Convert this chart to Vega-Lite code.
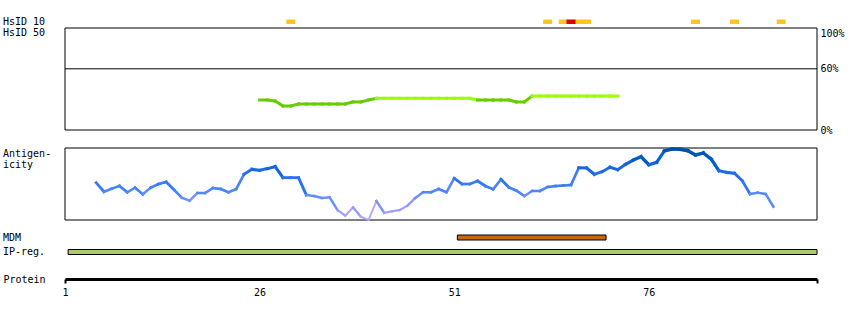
{
  "$schema": "https://vega.github.io/schema/vega-lite/v6.json",
  "width": 752,
  "height": 279,
  "autosize": {"type": "none"},
  "padding": {"left": 65, "top": 0, "right": 33, "bottom": 41},
  "background": "white",
  "config": {
    "view": {"stroke": null},
    "font": "DejaVu Sans Mono",
    "text": {"font": "DejaVu Sans Mono", "fontSize": 10, "color": "black"},
    "axis": {"labelFont": "DejaVu Sans Mono", "labelFontSize": 10, "labelColor": "black", "titleFont": "DejaVu Sans Mono", "titleFontSize": 10, "titleFontWeight": "normal", "titleColor": "black", "grid": false},
    "axisX": {"domainWidth": 3, "domainColor": "black", "ticks": true, "tickSize": 4, "tickWidth": 2,
              "tickColor": {"condition": {"test": "datum.value < 2 || datum.value > 97", "value": "black"}, "value": "transparent"},
              "labelExpr": "datum.value > 97 ? '' : datum.label",
              "labelPadding": 4, "labelFlush": false, "titleX": -62, "titleY": 0, "titleAlign": "left", "titleBaseline": "middle", "titleAnchor": "start"}
  },
  "datasets": {
    "hsid10": [
      {"res": 30, "level": "partial"}, {"res": 63, "level": "partial"}, {"res": 65, "level": "partial"},
      {"res": 67, "level": "partial"}, {"res": 68, "level": "partial"}, {"res": 82, "level": "partial"},
      {"res": 87, "level": "partial"}, {"res": 93, "level": "partial"}, {"res": 66, "level": "full"}
    ],
    "hsid50": [
      {"res": 26, "v": 29.4}, {"res": 27, "v": 29.4}, {"res": 28, "v": 28.4}, {"res": 29, "v": 23.5},
      {"res": 30, "v": 23.5}, {"res": 31, "v": 25.5}, {"res": 32, "v": 25.5}, {"res": 33, "v": 25.5},
      {"res": 34, "v": 25.5}, {"res": 35, "v": 25.5}, {"res": 36, "v": 25.5}, {"res": 37, "v": 25.5},
      {"res": 38, "v": 27.5}, {"res": 39, "v": 27.5}, {"res": 40, "v": 29.4}, {"res": 41, "v": 31.1},
      {"res": 42, "v": 31.1}, {"res": 43, "v": 31.1}, {"res": 44, "v": 31.1}, {"res": 45, "v": 31.1},
      {"res": 46, "v": 31.1}, {"res": 47, "v": 31.1}, {"res": 48, "v": 31.1}, {"res": 49, "v": 31.1},
      {"res": 50, "v": 31.1}, {"res": 51, "v": 31.1}, {"res": 52, "v": 31.1}, {"res": 53, "v": 31.1},
      {"res": 54, "v": 29.4}, {"res": 55, "v": 29.4}, {"res": 56, "v": 29.4}, {"res": 57, "v": 29.4},
      {"res": 58, "v": 29.4}, {"res": 59, "v": 27.5}, {"res": 60, "v": 27.5}, {"res": 61, "v": 33.3},
      {"res": 62, "v": 33.3}, {"res": 63, "v": 33.3}, {"res": 64, "v": 33.3}, {"res": 65, "v": 33.3},
      {"res": 66, "v": 33.3}, {"res": 67, "v": 33.3}, {"res": 68, "v": 33.3}, {"res": 69, "v": 33.3},
      {"res": 70, "v": 33.3}, {"res": 71, "v": 33.3}, {"res": 72, "v": 33.3}
    ],
    "antigen": [
      {"res": 5, "v": 0.518}, {"res": 6, "v": 0.393}, {"res": 7, "v": 0.435}, {"res": 8, "v": 0.472},
      {"res": 9, "v": 0.385}, {"res": 10, "v": 0.449}, {"res": 11, "v": 0.357}, {"res": 12, "v": 0.449},
      {"res": 13, "v": 0.5}, {"res": 14, "v": 0.528}, {"res": 15, "v": 0.42}, {"res": 16, "v": 0.31},
      {"res": 17, "v": 0.268}, {"res": 18, "v": 0.375}, {"res": 19, "v": 0.375}, {"res": 20, "v": 0.444},
      {"res": 21, "v": 0.431}, {"res": 22, "v": 0.385}, {"res": 23, "v": 0.431}, {"res": 24, "v": 0.635},
      {"res": 25, "v": 0.704}, {"res": 26, "v": 0.69}, {"res": 27, "v": 0.713}, {"res": 28, "v": 0.74},
      {"res": 29, "v": 0.588}, {"res": 30, "v": 0.588}, {"res": 31, "v": 0.588}, {"res": 32, "v": 0.347},
      {"res": 33, "v": 0.333}, {"res": 34, "v": 0.306}, {"res": 35, "v": 0.315}, {"res": 36, "v": 0.139},
      {"res": 37, "v": 0.06}, {"res": 38, "v": 0.176}, {"res": 39, "v": 0.046}, {"res": 40, "v": 0.0},
      {"res": 41, "v": 0.264}, {"res": 42, "v": 0.101}, {"res": 43, "v": 0.121}, {"res": 44, "v": 0.139},
      {"res": 45, "v": 0.199}, {"res": 46, "v": 0.306}, {"res": 47, "v": 0.385}, {"res": 48, "v": 0.385},
      {"res": 49, "v": 0.431}, {"res": 50, "v": 0.385}, {"res": 51, "v": 0.579}, {"res": 52, "v": 0.5},
      {"res": 53, "v": 0.5}, {"res": 54, "v": 0.542}, {"res": 55, "v": 0.472}, {"res": 56, "v": 0.426},
      {"res": 57, "v": 0.565}, {"res": 58, "v": 0.454}, {"res": 59, "v": 0.407}, {"res": 60, "v": 0.333},
      {"res": 61, "v": 0.403}, {"res": 62, "v": 0.403}, {"res": 63, "v": 0.458}, {"res": 64, "v": 0.472},
      {"res": 65, "v": 0.479}, {"res": 66, "v": 0.486}, {"res": 67, "v": 0.726}, {"res": 68, "v": 0.722},
      {"res": 69, "v": 0.635}, {"res": 70, "v": 0.671}, {"res": 71, "v": 0.732}, {"res": 72, "v": 0.699},
      {"res": 73, "v": 0.774}, {"res": 74, "v": 0.833}, {"res": 75, "v": 0.879}, {"res": 76, "v": 0.768},
      {"res": 77, "v": 0.801}, {"res": 78, "v": 0.958}, {"res": 79, "v": 0.986}, {"res": 80, "v": 0.982},
      {"res": 81, "v": 0.962}, {"res": 82, "v": 0.903}, {"res": 83, "v": 0.931}, {"res": 84, "v": 0.847},
      {"res": 85, "v": 0.685}, {"res": 86, "v": 0.662}, {"res": 87, "v": 0.649}, {"res": 88, "v": 0.546},
      {"res": 89, "v": 0.361}, {"res": 90, "v": 0.379}, {"res": 91, "v": 0.361}, {"res": 92, "v": 0.185}
    ],
    "regions": [
      {"track": "MDM", "start": 51.4, "end": 70.5},
      {"track": "IP-reg.", "start": 1.4, "end": 97.6}
    ]
  },
  "resolve": {"scale": {"y": "independent", "color": "independent", "size": "independent"}, "axis": {"y": "independent"}},
  "layer": [
    {
      "layer": [
        {
          "data": {"name": "hsid10"},
          "mark": {"type": "bar", "orient": "vertical", "size": 9},
          "encoding": {
            "x": {"field": "res", "type": "quantitative", "scale": {"domain": [1, 97.6], "nice": false, "zero": false, "padding": 0}, "axis": {"values": [1, 26, 51, 76, 97.6], "title": "Protein"}},
            "y": {"datum": 0, "type": "quantitative", "scale": {"domain": [0, 1], "range": [24, 19.5]}, "axis": null},
            "y2": {"datum": 1},
            "color": {"field": "level", "type": "nominal", "scale": {"domain": ["partial", "full"], "range": ["#ffc61a", "#dd0000"]}, "legend": null}
          }
        },
        {
          "data": {"values": [{"label": "HsID 10"}]},
          "mark": {"type": "text", "align": "left", "baseline": "middle", "dx": -62},
          "encoding": {
            "x": {"datum": 1, "type": "quantitative", "scale": {"domain": [1, 97.6], "nice": false, "zero": false, "padding": 0}, "axis": {"values": [1, 26, 51, 76, 97.6], "title": "Protein"}},
            "y": {"datum": 0.5, "type": "quantitative"},
            "text": {"field": "label"}
          }
        }
      ]
    },
    {
      "layer": [
        {
          "data": {"values": [{"panel": "HsID 50"}]},
          "mark": {"type": "rect", "fillOpacity": 0, "stroke": "black", "strokeWidth": 1},
          "encoding": {
            "x": {"datum": 1, "type": "quantitative", "scale": {"domain": [1, 97.6], "nice": false, "zero": false, "padding": 0}, "axis": {"values": [1, 26, 51, 76, 97.6], "title": "Protein"}},
            "x2": {"datum": 97.6},
            "y": {"datum": 0, "type": "quantitative", "scale": {"domain": [0, 100], "range": [130, 28]},
                  "axis": {"orient": "right", "values": [0, 60, 100], "labelExpr": "datum.value + '%'", "ticks": false, "domain": false, "grid": false, "title": null, "labelPadding": 3, "labelFlush": false,
                           "labelBaseline": {"condition": {"test": "datum.value == 100", "value": "top"}, "value": "middle"}}},
            "y2": {"datum": 100}
          }
        },
        {
          "data": {"values": [{"pct": 60}]},
          "mark": {"type": "rule", "color": "black", "strokeWidth": 1},
          "encoding": {"y": {"field": "pct", "type": "quantitative"}}
        },
        {
          "data": {"name": "hsid50"},
          "transform": [
            {"window": [{"op": "lead", "field": "res", "as": "res2"}, {"op": "lead", "field": "v", "as": "v2"}], "sort": [{"field": "res", "order": "ascending"}]},
            {"filter": "datum.res2 != null"}
          ],
          "mark": {"type": "rule", "strokeWidth": 3, "strokeCap": "square"},
          "encoding": {
            "x": {"field": "res", "type": "quantitative", "scale": {"domain": [1, 97.6], "nice": false, "zero": false, "padding": 0}, "axis": {"values": [1, 26, 51, 76, 97.6], "title": "Protein"}},
            "x2": {"field": "res2"},
            "y": {"field": "v", "type": "quantitative"},
            "y2": {"field": "v2"},
            "color": {"field": "v", "type": "quantitative", "scale": {"type": "threshold", "domain": [30], "range": ["#66cc00", "#99ff00"]}, "legend": null}
          }
        },
        {
          "data": {"values": [{"label": "HsID 50"}]},
          "mark": {"type": "text", "align": "left", "baseline": "middle", "dx": -62, "dy": 4.5},
          "encoding": {
            "x": {"datum": 1, "type": "quantitative", "scale": {"domain": [1, 97.6], "nice": false, "zero": false, "padding": 0}, "axis": {"values": [1, 26, 51, 76, 97.6], "title": "Protein"}},
            "y": {"datum": 100, "type": "quantitative"},
            "text": {"field": "label"}
          }
        }
      ]
    },
    {
      "layer": [
        {
          "data": {"values": [{"panel": "Antigenicity"}]},
          "mark": {"type": "rect", "fillOpacity": 0, "stroke": "black", "strokeWidth": 1},
          "encoding": {
            "x": {"datum": 1, "type": "quantitative", "scale": {"domain": [1, 97.6], "nice": false, "zero": false, "padding": 0}, "axis": {"values": [1, 26, 51, 76, 97.6], "title": "Protein"}},
            "x2": {"datum": 97.6},
            "y": {"datum": 0, "type": "quantitative", "scale": {"domain": [0, 1], "range": [220, 148]}, "axis": null},
            "y2": {"datum": 1}
          }
        },
        {
          "data": {"name": "antigen"},
          "transform": [
            {"window": [{"op": "lead", "field": "res", "as": "res2"}, {"op": "lead", "field": "v", "as": "v2"}], "sort": [{"field": "res", "order": "ascending"}]},
            {"filter": "datum.res2 != null"}
          ],
          "mark": {"type": "rule", "strokeCap": "square"},
          "encoding": {
            "x": {"field": "res", "type": "quantitative", "scale": {"domain": [1, 97.6], "nice": false, "zero": false, "padding": 0}, "axis": {"values": [1, 26, 51, 76, 97.6], "title": "Protein"}},
            "x2": {"field": "res2"},
            "y": {"field": "v", "type": "quantitative"},
            "y2": {"field": "v2"},
            "color": {"field": "v", "type": "quantitative", "scale": {"domain": [0, 0.2, 0.4, 0.6, 0.8, 1], "range": ["#b8a8ff", "#8c98ff", "#4a86ff", "#2a70f0", "#0a60d8", "#0050a0"]}, "legend": null},
            "size": {"field": "v", "type": "quantitative", "scale": {"domain": [0, 1], "range": [2, 3.5]}, "legend": null}
          }
        },
        {
          "data": {"values": [{"label": "Antigen-\nicity"}]},
          "mark": {"type": "text", "align": "left", "baseline": "top", "dx": -62, "dy": 1, "lineBreak": "\n", "lineHeight": 10.5},
          "encoding": {
            "x": {"datum": 1, "type": "quantitative", "scale": {"domain": [1, 97.6], "nice": false, "zero": false, "padding": 0}, "axis": {"values": [1, 26, 51, 76, 97.6], "title": "Protein"}},
            "y": {"datum": 1, "type": "quantitative"},
            "text": {"field": "label"}
          }
        }
      ]
    },
    {
      "layer": [
        {
          "data": {"name": "regions"},
          "mark": {"type": "bar", "orient": "horizontal", "size": 5, "stroke": "black", "strokeWidth": 1},
          "encoding": {
            "x": {"field": "start", "type": "quantitative", "scale": {"domain": [1, 97.6], "nice": false, "zero": false, "padding": 0}, "axis": {"values": [1, 26, 51, 76, 97.6], "title": "Protein"}},
            "x2": {"field": "end"},
            "y": {"field": "track", "type": "nominal", "scale": {"type": "point", "domain": ["MDM", "IP-reg."], "range": [237.5, 252], "padding": 0}, "axis": null},
            "color": {"field": "track", "type": "nominal", "scale": {"domain": ["MDM", "IP-reg."], "range": ["#c8680c", "#a8cc6e"]}, "legend": null}
          }
        },
        {
          "data": {"name": "regions"},
          "mark": {"type": "text", "align": "left", "baseline": "middle", "dx": -62},
          "encoding": {
            "x": {"datum": 1, "type": "quantitative", "scale": {"domain": [1, 97.6], "nice": false, "zero": false, "padding": 0}, "axis": {"values": [1, 26, 51, 76, 97.6], "title": "Protein"}},
            "y": {"field": "track", "type": "nominal"},
            "text": {"field": "track"}
          }
        }
      ]
    }
  ]
}
